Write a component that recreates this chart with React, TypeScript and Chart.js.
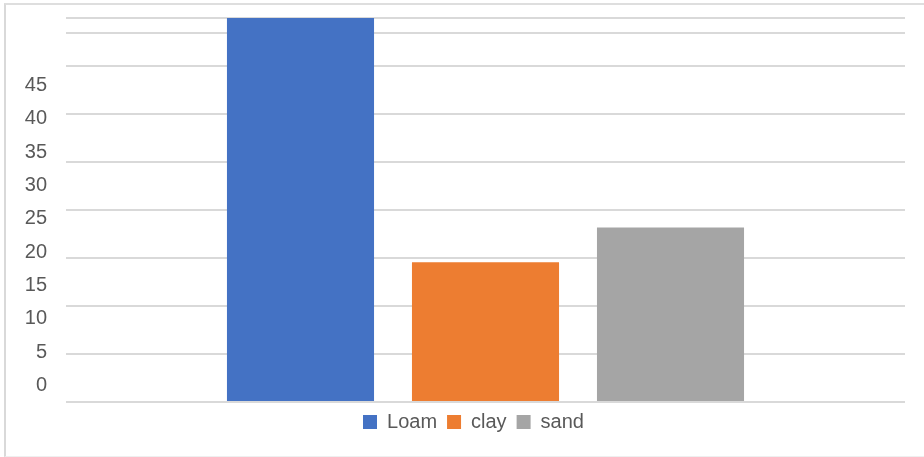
import React, { useEffect, useRef } from "react";
import { Chart, registerables } from "chart.js";

Chart.register(...registerables);

const categories = ["Soil"];
const seriesNames = ["Loam", "clay", "sand"];
const loamValues = [55];
const clayValues = [20];
const sandValues = [25];
const tickLabels = [0, 5, 10, 15, 20, 25, 30, 35, 40, 45];

export default function App() {
  const ref = useRef<HTMLCanvasElement>(null);

  useEffect(() => {
    const canvas = ref.current;
    if (!canvas) return;
    Chart.defaults.font.family = "'Liberation Sans', Arial, sans-serif";
    const colors = ["#4472C4", "#ED7D31", "#A5A5A5"];
    const values = [loamValues, clayValues, sandValues];
    const gridMax = 55;
    const chart = new Chart(canvas, {
      type: "bar",
      data: {
        labels: categories,
        datasets: seriesNames.map((name, i) => ({
          label: name,
          data: values[i],
          backgroundColor: colors[i],
          borderWidth: 0,
          xAxisID: "x",
          yAxisID: "y",
          categoryPercentage: 0.6615,
          barPercentage: 0.795,
        })),
      },
      options: {
        responsive: false,
        animation: false,
        layout: { padding: { top: 18, right: 19, bottom: 15, left: 42 } },
        plugins: {
          tooltip: { enabled: false },
          legend: {
            position: "bottom",
            labels: {
              boxWidth: 14,
              boxHeight: 14,
              padding: 10,
              color: "#595959",
              font: { size: 20 },
            },
          },
        },
        scales: {
          x: { type: "category", display: false },
          y: {
            type: "linear",
            position: "right",
            min: 0,
            max: gridMax,
            afterBuildTicks: (s: any) => {
              const t: any[] = [];
              for (let i = 0; i <= 8; i++) t.push({ value: (gridMax * i) / 8 });
              t.push({ value: gridMax * (369 / 384) });
              s.ticks = t;
            },
            ticks: { display: false },
            grid: { color: "#d9d9d9", lineWidth: 2, drawTicks: false },
            border: { display: false },
            afterFit: (s: any) => {
              s.width = 0;
              s.paddingTop = 0;
              s.paddingBottom = 0;
            },
          },
          yl: {
            type: "linear",
            axis: "y",
            position: "left",
            display: true,
            min: -2.475,
            max: 55.125,
            afterBuildTicks: (s: any) => {
              s.ticks = tickLabels.map((v) => ({ value: v }));
            },
            grid: { display: false, drawTicks: false },
            border: { display: false },
            ticks: {
              display: true,
              color: "#595959",
              font: { size: 20 },
              mirror: true,
              crossAlign: "far",
              padding: -41.2,
            },
            afterFit: (s: any) => {
              s.width = 24;
              s.paddingTop = 0;
              s.paddingBottom = 0;
            },
          },
        },
      },
    });
    return () => chart.destroy();
  }, []);

  return (
    <div
      style={{
        position: "absolute",
        left: 0,
        top: 0,
        width: 924,
        height: 457,
        overflow: "hidden",
        background: "#fff",
      }}
    >
      <div
        style={{
          position: "absolute",
          left: 4,
          top: 3,
          width: 930,
          height: 451,
          borderLeft: "2px solid #d9d9d9",
          borderTop: "2px solid #dedede",
          borderBottom: "1px solid #efefef",
        }}
      />
      <canvas
        ref={ref}
        width={924}
        height={457}
        style={{ position: "absolute", left: 0, top: 0, width: 924, height: 457 }}
      />
    </div>
  );
}
